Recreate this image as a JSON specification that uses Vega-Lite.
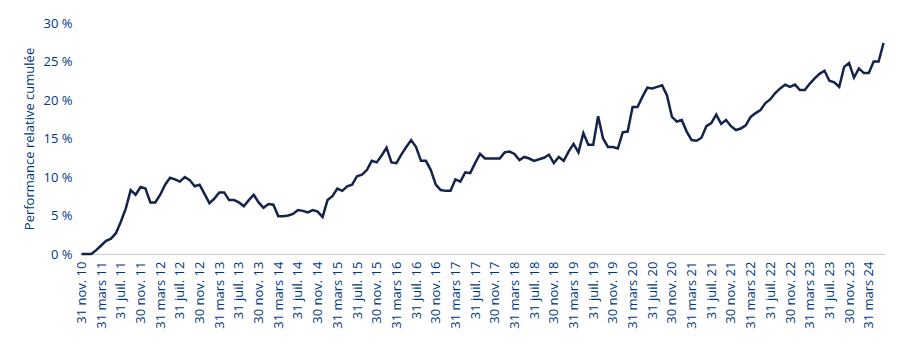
{
  "$schema": "https://vega.github.io/schema/vega-lite/v6.json",
  "autosize": "none",
  "padding": {"left": 80, "top": 23, "right": 15, "bottom": 98},
  "width": 805,
  "height": 231,
  "background": "white",
  "config": {"view": {"stroke": null}, "font": "Open Sans"},
  "data": {"values": [
    {"mois":"31 nov. 10","perf":0},{"mois":"31 déc. 10","perf":0},{"mois":"31 janv. 11","perf":0},{"mois":"28 févr. 11","perf":0.5},
    {"mois":"31 mars 11","perf":1.1},{"mois":"30 avr. 11","perf":1.7},{"mois":"31 mai 11","perf":2.0},{"mois":"30 juin 11","perf":2.7},
    {"mois":"31 juil. 11","perf":4.2},{"mois":"31 août 11","perf":5.9},{"mois":"30 sept. 11","perf":8.3},{"mois":"31 oct. 11","perf":7.7},
    {"mois":"30 nov. 11","perf":8.7},{"mois":"31 déc. 11","perf":8.5},{"mois":"31 janv. 12","perf":6.7},{"mois":"29 févr. 12","perf":6.7},
    {"mois":"31 mars 12","perf":7.7},{"mois":"30 avr. 12","perf":9.0},{"mois":"31 mai 12","perf":9.9},{"mois":"30 juin 12","perf":9.7},
    {"mois":"31 juil. 12","perf":9.4},{"mois":"31 août 12","perf":10.0},{"mois":"30 sept. 12","perf":9.6},{"mois":"31 oct. 12","perf":8.8},
    {"mois":"30 nov. 12","perf":9.0},{"mois":"31 déc. 12","perf":7.8},{"mois":"31 janv. 13","perf":6.6},{"mois":"28 févr. 13","perf":7.2},
    {"mois":"31 mars 13","perf":8.0},{"mois":"30 avr. 13","perf":8.0},{"mois":"31 mai 13","perf":7.0},{"mois":"30 juin 13","perf":7.0},
    {"mois":"31 juil. 13","perf":6.7},{"mois":"31 août 13","perf":6.2},{"mois":"30 sept. 13","perf":7.0},{"mois":"31 oct. 13","perf":7.7},
    {"mois":"30 nov. 13","perf":6.7},{"mois":"31 déc. 13","perf":6.0},{"mois":"31 janv. 14","perf":6.5},{"mois":"28 févr. 14","perf":6.4},
    {"mois":"31 mars 14","perf":4.9},{"mois":"30 avr. 14","perf":4.9},{"mois":"31 mai 14","perf":5.0},{"mois":"30 juin 14","perf":5.2},
    {"mois":"31 juil. 14","perf":5.7},{"mois":"31 août 14","perf":5.6},{"mois":"30 sept. 14","perf":5.4},{"mois":"31 oct. 14","perf":5.7},
    {"mois":"30 nov. 14","perf":5.5},{"mois":"31 déc. 14","perf":4.8},{"mois":"31 janv. 15","perf":7.0},{"mois":"28 févr. 15","perf":7.5},
    {"mois":"31 mars 15","perf":8.5},{"mois":"30 avr. 15","perf":8.2},{"mois":"31 mai 15","perf":8.8},{"mois":"30 juin 15","perf":9.0},
    {"mois":"31 juil. 15","perf":10.1},{"mois":"31 août 15","perf":10.3},{"mois":"30 sept. 15","perf":10.9},{"mois":"31 oct. 15","perf":12.1},
    {"mois":"30 nov. 15","perf":11.9},{"mois":"31 déc. 15","perf":12.8},{"mois":"31 janv. 16","perf":13.8},{"mois":"29 févr. 16","perf":11.9},
    {"mois":"31 mars 16","perf":11.8},{"mois":"30 avr. 16","perf":12.9},{"mois":"31 mai 16","perf":13.9},{"mois":"30 juin 16","perf":14.8},
    {"mois":"31 juil. 16","perf":13.9},{"mois":"31 août 16","perf":12.1},{"mois":"30 sept. 16","perf":12.1},{"mois":"31 oct. 16","perf":10.9},
    {"mois":"30 nov. 16","perf":9.0},{"mois":"31 déc. 16","perf":8.3},{"mois":"31 janv. 17","perf":8.2},{"mois":"28 févr. 17","perf":8.2},
    {"mois":"31 mars 17","perf":9.7},{"mois":"30 avr. 17","perf":9.4},{"mois":"31 mai 17","perf":10.6},{"mois":"30 juin 17","perf":10.5},
    {"mois":"31 juil. 17","perf":11.8},{"mois":"31 août 17","perf":13.0},{"mois":"30 sept. 17","perf":12.4},{"mois":"31 oct. 17","perf":12.4},
    {"mois":"30 nov. 17","perf":12.4},{"mois":"31 déc. 17","perf":12.4},{"mois":"31 janv. 18","perf":13.2},{"mois":"28 févr. 18","perf":13.3},
    {"mois":"31 mars 18","perf":13.0},{"mois":"30 avr. 18","perf":12.2},{"mois":"31 mai 18","perf":12.6},{"mois":"30 juin 18","perf":12.4},
    {"mois":"31 juil. 18","perf":12.1},{"mois":"31 août 18","perf":12.3},{"mois":"30 sept. 18","perf":12.5},{"mois":"31 oct. 18","perf":12.9},
    {"mois":"30 nov. 18","perf":11.8},{"mois":"31 déc. 18","perf":12.6},{"mois":"31 janv. 19","perf":12.1},{"mois":"28 févr. 19","perf":13.3},
    {"mois":"31 mars 19","perf":14.3},{"mois":"30 avr. 19","perf":13.2},{"mois":"31 mai 19","perf":15.7},{"mois":"30 juin 19","perf":14.2},
    {"mois":"31 juil. 19","perf":14.2},{"mois":"31 août 19","perf":17.9},{"mois":"30 sept. 19","perf":15.0},{"mois":"31 oct. 19","perf":13.9},
    {"mois":"30 nov. 19","perf":13.9},{"mois":"31 déc. 19","perf":13.7},{"mois":"31 janv. 20","perf":15.8},{"mois":"29 févr. 20","perf":15.9},
    {"mois":"31 mars 20","perf":19.1},{"mois":"30 avr. 20","perf":19.1},{"mois":"31 mai 20","perf":20.4},{"mois":"30 juin 20","perf":21.6},
    {"mois":"31 juil. 20","perf":21.5},{"mois":"31 août 20","perf":21.7},{"mois":"30 sept. 20","perf":21.9},{"mois":"31 oct. 20","perf":20.6},
    {"mois":"30 nov. 20","perf":17.8},{"mois":"31 déc. 20","perf":17.2},{"mois":"31 janv. 21","perf":17.4},{"mois":"28 févr. 21","perf":15.9},
    {"mois":"31 mars 21","perf":14.8},{"mois":"30 avr. 21","perf":14.7},{"mois":"31 mai 21","perf":15.1},{"mois":"30 juin 21","perf":16.6},
    {"mois":"31 juil. 21","perf":17.0},{"mois":"31 août 21","perf":18.1},{"mois":"30 sept. 21","perf":16.9},{"mois":"31 oct. 21","perf":17.4},
    {"mois":"30 nov. 21","perf":16.6},{"mois":"31 déc. 21","perf":16.1},{"mois":"31 janv. 22","perf":16.3},{"mois":"28 févr. 22","perf":16.7},
    {"mois":"31 mars 22","perf":17.8},{"mois":"30 avr. 22","perf":18.3},{"mois":"31 mai 22","perf":18.7},{"mois":"30 juin 22","perf":19.6},
    {"mois":"31 juil. 22","perf":20.1},{"mois":"31 août 22","perf":20.9},{"mois":"30 sept. 22","perf":21.5},{"mois":"31 oct. 22","perf":22.0},
    {"mois":"30 nov. 22","perf":21.7},{"mois":"31 déc. 22","perf":22.0},{"mois":"31 janv. 23","perf":21.3},{"mois":"28 févr. 23","perf":21.3},
    {"mois":"31 mars 23","perf":22.1},{"mois":"30 avr. 23","perf":22.8},{"mois":"31 mai 23","perf":23.4},{"mois":"30 juin 23","perf":23.8},
    {"mois":"31 juil. 23","perf":22.5},{"mois":"31 août 23","perf":22.3},{"mois":"30 sept. 23","perf":21.7},{"mois":"31 oct. 23","perf":24.3},
    {"mois":"30 nov. 23","perf":24.8},{"mois":"31 déc. 23","perf":22.9},{"mois":"31 janv. 24","perf":24.1},{"mois":"29 févr. 24","perf":23.5},
    {"mois":"31 mars 24","perf":23.5},{"mois":"30 avr. 24","perf":25.0},{"mois":"31 mai 24","perf":25.0},{"mois":"30 juin 24","perf":27.4}
  ]},
  "mark": {"type": "line", "color": "#13234a", "strokeWidth": 2.5, "strokeJoin": "miter"},
  "encoding": {
    "x": {
      "field": "mois", "type": "ordinal", "sort": null,
      "scale": {"type": "point", "padding": 0.3},
      "axis": {
        "title": null,
        "values": ["31 nov. 10","31 mars 11","31 juil. 11","30 nov. 11","31 mars 12","31 juil. 12","30 nov. 12","31 mars 13","31 juil. 13","30 nov. 13","31 mars 14","31 juil. 14","30 nov. 14","31 mars 15","31 juil. 15","30 nov. 15","31 mars 16","31 juil. 16","30 nov. 16","31 mars 17","31 juil. 17","30 nov. 17","31 mars 18","31 juil. 18","30 nov. 18","31 mars 19","31 juil. 19","30 nov. 19","31 mars 20","31 juil. 20","30 nov. 20","31 mars 21","31 juil. 21","30 nov. 21","31 mars 22","31 juil. 22","30 nov. 22","31 mars 23","31 juil. 23","30 nov. 23","31 mars 24"],
        "labelAngle": -90,
        "labelAlign": "right",
        "labelBaseline": "middle",
        "labelPadding": 7,
        "labelFontSize": 13,
        "labelColor": "#003781",
        "labelOverlap": false,
        "ticks": false,
        "domainColor": "#cccccc",
        "domainWidth": 1,
        "grid": false
      }
    },
    "y": {
      "field": "perf", "type": "quantitative",
      "scale": {"domain": [0, 30], "nice": false},
      "axis": {
        "title": "Performance relative cumulée",
        "titleColor": "#003781",
        "titleFontSize": 13,
        "titleFontWeight": "normal",
        "titleAngle": -90,
        "titleAlign": "center",
        "titleBaseline": "middle",
        "titleX": -51,
        "titleY": 115.5,
        "values": [0, 5, 10, 15, 20, 25, 30],
        "labelExpr": "datum.value + ' %'",
        "labelFontSize": 13,
        "labelColor": "#003781",
        "labelPadding": 8,
        "ticks": false,
        "domain": false,
        "grid": false
      }
    }
  }
}
